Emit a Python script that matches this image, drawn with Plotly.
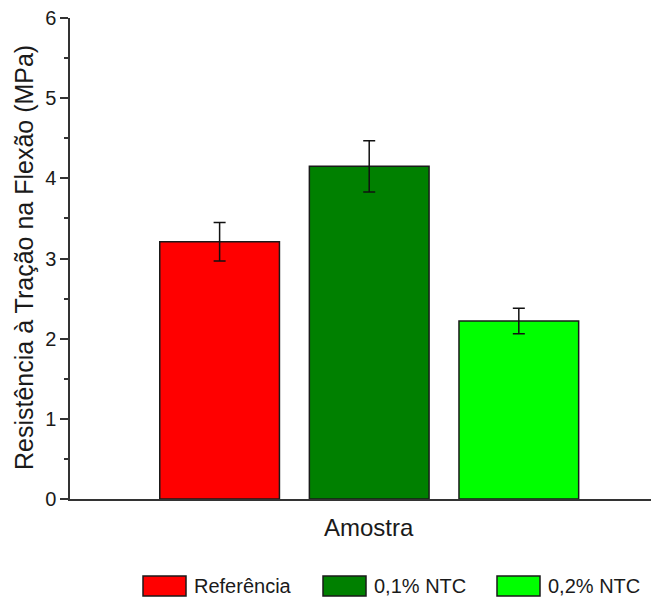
import plotly.graph_objects as go

# ---- data ----
categories = ["Referência", "0,1% NTC", "0,2% NTC"]
values = [3.21, 4.15, 2.22]
errors = [0.24, 0.32, 0.16]
colors = ["#FF0000", "#008000", "#00FF00"]
positions = [1, 2, 3]
y_ticks = [0, 1, 2, 3, 4, 5, 6]

# ---- layout constants (page has an 8px body margin) ----
OFF = 8
W, H = 659 - OFF, 597 - OFF
L, R, T = 62, 0, 10
PW = W - L - R
PH = 481
B = H - T - PH
FONT = "Liberation Sans, Arial, sans-serif"
TXT = "#1a1a1a"
AX = "#333333"
X0_WIN = OFF + L            # window x of plot left
Y0_WIN = OFF + T + PH       # window y of plot bottom


def px_x(x):
    return (x - X0_WIN) / PW


def px_y(y):
    return (Y0_WIN - y) / PH


fig = go.Figure()
for cat, v, e, c, p in zip(categories, values, errors, colors, positions):
    fig.add_trace(go.Bar(
        x=[p], y=[v], width=0.8, name=cat, showlegend=False,
        marker=dict(color=c, line=dict(color="#1a1a1a", width=1.5)),
        error_y=dict(type="data", array=[e], color="#111111", thickness=1.5, width=6),
    ))

fig.update_layout(
    width=W, height=H,
    margin=dict(l=L, r=R, t=T, b=B, pad=0),
    paper_bgcolor="white", plot_bgcolor="white",
    barmode="overlay",
    font=dict(family=FONT, color=TXT),
    xaxis=dict(range=[0, 3.937], showticklabels=False, ticks="", showline=True,
               linecolor=AX, linewidth=1.5, showgrid=False, zeroline=False),
    yaxis=dict(range=[0, 6], tickvals=y_ticks, ticks="outside", ticklen=8, tickwidth=1.5,
               tickcolor=AX, showline=True, linecolor=AX, linewidth=1.5,
               ticklabeloverflow="allow",
               showgrid=False, zeroline=False, tickfont=dict(size=20, color=TXT, family=FONT),
               minor=dict(ticks="outside", ticklen=4, dtick=0.5, tickwidth=1.5, tickcolor=AX)),
)

annotations = [
    dict(text="Resistência à Tração na Flexão (MPa)", xref="paper", yref="paper",
         x=px_x(24), y=px_y(258), textangle=-90, showarrow=False, xanchor="center", yanchor="middle",
         font=dict(size=25, color=TXT, family=FONT)),
    dict(text="Amostra", xref="paper", yref="paper", x=px_x(369), y=px_y(527),
         showarrow=False, xanchor="center", yanchor="middle",
         font=dict(size=24, color=TXT, family=FONT)),
]

# custom legend (wide swatches as in the reference)
swatch_left = [143, 323, 497]
sw_w, sw_h, leg_y = 43, 20, 586
shapes = []
for cat, c, x0 in zip(categories, colors, swatch_left):
    shapes.append(dict(type="rect", xref="paper", yref="paper",
                       x0=px_x(x0), x1=px_x(x0 + sw_w),
                       y0=px_y(leg_y - sw_h / 2), y1=px_y(leg_y + sw_h / 2),
                       fillcolor=c, line=dict(color="#1a1a1a", width=1.5)))
    annotations.append(dict(text=cat, xref="paper", yref="paper", x=px_x(x0 + sw_w + 6),
                            y=px_y(leg_y), showarrow=False, xanchor="left", yanchor="middle",
                            font=dict(size=20, color=TXT, family=FONT)))

fig.update_layout(annotations=annotations, shapes=shapes)
fig.write_html("out.html")
